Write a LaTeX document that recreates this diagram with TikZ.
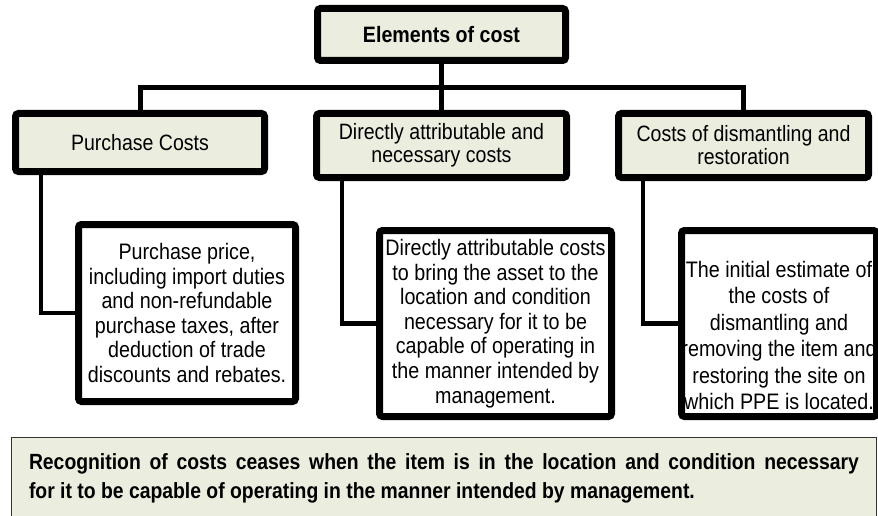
\documentclass[tikz,border=0pt]{standalone}
\usepackage{fontspec}
\setmainfont{Liberation Sans}[FakeStretch=0.88]
\usepackage{tikz}
\usetikzlibrary{positioning,shadows}
\definecolor{boxGreen}{HTML}{EBEEDE}
\newcommand{\headfont}{\fontsize{22.3pt}{24pt}\selectfont\bfseries}
\newcommand{\catfont}{\fontsize{22.2pt}{23pt}\selectfont}
\newcommand{\detfont}{\fontsize{22.4pt}{24.6pt}\selectfont}
\newcommand{\notefont}{\fontsize{22pt}{29.5pt}\selectfont\bfseries}

\begin{document}
\begin{tikzpicture}[x=1pt, y=1pt]
	% Define styles for boxes
	\tikzset{
		headbox/.style={
			rectangle,
			draw,
			line width=7pt,
			rounded corners=3pt,
			fill=boxGreen,
			drop shadow={shadow xshift=1pt, shadow yshift=-3pt, opacity=0.3},
			align=flush center,
			inner sep=0pt
		},
		detailbox/.style={
			headbox,
			fill=white,
			font=\detfont
		},
		notebox/.style={
			rectangle,
			draw=black!80,
			line width=1.5pt,
			fill=boxGreen,
			align=justify,
			text width=830pt,
			inner xsep=17.5pt,
			inner ysep=16pt,
			font=\notefont
		},
		busline/.style={line width=5pt},
		link/.style={line width=4.5pt}
	}
	\useasboundingbox (0,0) rectangle (878,-516);
	
	% Nodes for the top and the three kinds of cost
	\node[headbox, font=\headfont, minimum width=248pt, minimum height=52pt] (topCost) at (441.5,-34.5) {Elements of cost};
	\node[headbox, font=\catfont, minimum width=250pt, minimum height=64pt, below=46pt of topCost] (catDirect) {Directly attributable and\\ necessary costs};
	\node[headbox, font=\catfont, minimum width=249pt, minimum height=58pt] (catPurchase) at (140,-142.5) {Purchase Costs};
	\node[headbox, font=\catfont, minimum width=250pt, minimum height=64pt] (catDismantle) at (743.5,-145.5) {Costs of dismantling and\\ restoration};
	
	% Lines from Elements of cost to the three kinds
	\coordinate (bus) at (441.5,-88);
	\draw[busline] (topCost) -- (catDirect);
	\draw[busline] (catPurchase.north) |- (bus) -| (catDismantle.north);
	
	% Detail nodes
	\node[detailbox, text width=217pt, minimum height=177pt] (detPurchase) at (187,-313) {Purchase price,\\ including import duties\\ and non-refundable\\ purchase taxes, after\\ deduction of trade\\ discounts and rebates.};
	\node[detailbox, text width=232pt, minimum height=186pt] (detDirect) at (495.5,-323.5) {Directly attributable costs\\ to bring the asset to the\\ location and condition\\ necessary for it to be\\ capable of operating in\\ the manner intended by\\ management.};
	\node[detailbox, text width=195pt, minimum height=186pt, font=\fontsize{22.4pt}{26.5pt}\selectfont] (detDismantle) at (779,-323.5) {\rule{0pt}{40pt}The initial estimate of\\ the costs of\\ dismantling and\\ \makebox[195pt]{removing the item and}\\ restoring the site on\\ \makebox[195pt]{which PPE is located.}};
	
	% Lines from the kinds to their details
	\draw[link] ([xshift=29pt]catPurchase.south west) |- (detPurchase.west);
	\draw[link] ([xshift=29pt]catDirect.south west) |- (detDirect.west);
	\draw[link] ([xshift=28pt]catDismantle.south west) |- (detDismantle.west);
	
	% Note at the bottom
	\node[notebox, anchor=north west] (note) at (10.75,-436.75) {Recognition of costs ceases when the item is in the location and condition necessary\linebreak for it to be capable of operating in the manner intended by management.};
\end{tikzpicture}
\end{document}
